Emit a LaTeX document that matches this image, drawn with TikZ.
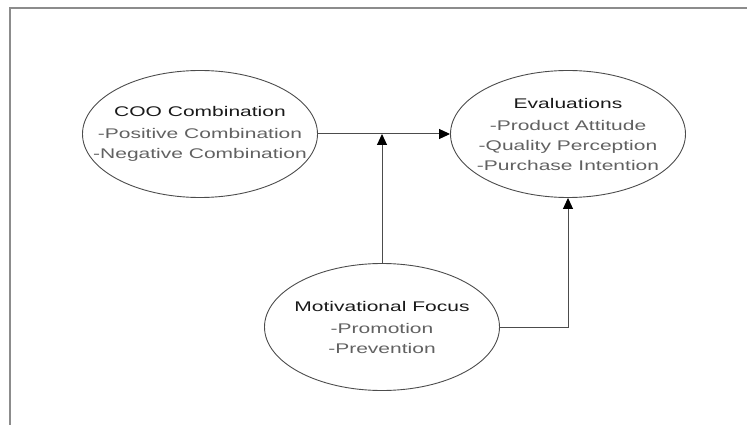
\documentclass[tikz,border=0pt]{standalone}
\usepackage{fontspec}
\setmainfont{Liberation Sans}[FakeStretch=1.5]
\usepackage{xcolor}
\usetikzlibrary{shapes.geometric,arrows.meta}

\begin{document}
\begin{tikzpicture}[x=1pt,y=-1pt,
                    oval/.style={draw=black!70,line width=0.9pt,ellipse,inner sep=0pt,
                                 minimum width=235pt,minimum height=127pt},
                    txt/.style={align=center,text=black!62,inner sep=0pt,
                                font=\fontsize{14}{20}\selectfont},
                    link/.style={draw=black!70,line width=1pt},
                    arr/.style={link,-{Triangle[length=11pt,width=10pt,color=black]}}]
                    \useasboundingbox (0,0) rectangle (747,425);
                    \draw[black!45,line width=1.2pt] (747,8) -- (10,8) -- (10,425);
                    \node[oval,label={[txt]center:{{\color{black!90}COO Combination}\\[2pt]
                        -Positive Combination\\-Negative Combination}}] (coo) at (200,134) {};
                    \node[oval,label={[txt]center:{{\color{black!90}Evaluations}\\[2pt]
                        -Product Attitude\\-Quality Perception\\-Purchase Intention}}] (eval) at (568,134) {};
                    \node[oval,label={[txt]center:{{\color{black!90}Motivational Focus}\\[2pt]
                        -Promotion\\-Prevention}}] (motiv) at (382,327) {};
                    \draw[arr] (coo.east) -- (eval.west);
                    \draw[arr] (motiv.north) -- (motiv.north |- coo.east);
                    \draw[arr] (motiv.east) -| (eval.south);
\end{tikzpicture}
\end{document}
